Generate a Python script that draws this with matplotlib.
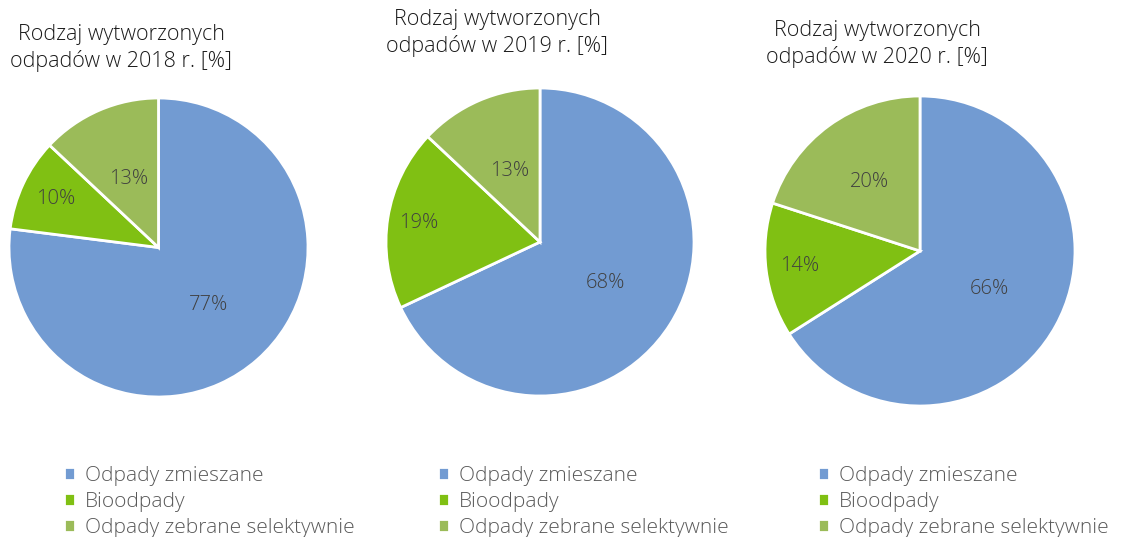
import numpy as np
import matplotlib
matplotlib.use("Agg")
import matplotlib.pyplot as plt

plt.rcParams['font.family'] = ['Open Sans', 'DejaVu Sans']

categories = ["Odpady zmieszane", "Bioodpady", "Odpady zebrane selektywnie"]
years = ["2018", "2019", "2020"]
shares_2018 = [77, 10, 13]
shares_2019 = [68, 19, 13]
shares_2020 = [66, 14, 20]
colors = ["#729BD2", "#80C013", "#9BBB59"]

W, H = 1129, 537
fig = plt.figure(figsize=(W / 100, H / 100), dpi=100)

# pixel layout: (center x, center y from top, radius), title center x/y, legend left x
pies = [
    (shares_2018, (158.5, 247.5, 149.5), (121, 48), 64, [0.51, 0.76, 0.50]),
    (shares_2019, (540, 242, 154), (497, 33), 438, [0.50, 0.80, 0.50]),
    (shares_2020, (920, 251, 155), (877, 44), 818, [0.51, 0.78, 0.55]),
]

for (vals, (cx, cy, r), (tx, ty), lx, dists), year in zip(pies, years):
    ax = fig.add_axes([(cx - r) / W, (H - cy - r) / H, 2 * r / W, 2 * r / H])
    wedges, _ = ax.pie(vals, colors=colors, startangle=90, counterclock=False,
                       wedgeprops=dict(edgecolor="white", linewidth=2))
    ax.set_xlim(-1, 1)
    ax.set_ylim(-1, 1)
    ax.set_aspect("equal")
    ax.axis("off")
    for w, v, d in zip(wedges, vals, dists):
        ang = np.deg2rad((w.theta1 + w.theta2) / 2)
        ax.text(d * np.cos(ang), d * np.sin(ang), f"{v}%", ha="center", va="center",
                fontsize=14.5, color="#404040", fontweight="light")
    fig.text(tx / W, 1 - ty / H, f"Rodzaj wytworzonych\nodpadów w {year} r. [%]",
             ha="center", va="center", fontsize=15.5, color="#1a1a1a",
             fontweight="light", linespacing=1.33)
    fig.legend(wedges, categories, loc="upper left",
               bbox_to_anchor=(lx / W, 1 - 466 / H), frameon=False,
               handlelength=0.55, handleheight=0.55, handletextpad=0.45,
               labelspacing=0.29, borderaxespad=0, borderpad=0,
               prop=dict(size=15, weight="light"), labelcolor="#595959")

fig.savefig("out.png", dpi=100)
